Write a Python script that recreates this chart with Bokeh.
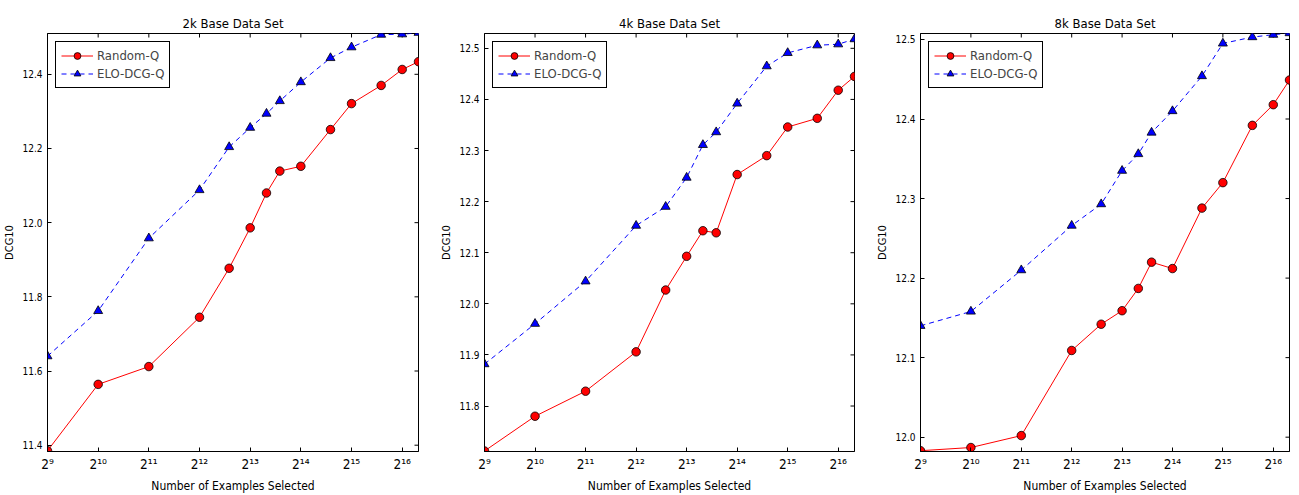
import math
from bokeh.plotting import figure
from bokeh.layouts import row
from bokeh.models import Range1d, FixedTicker, PrintfTickFormatter
from bokeh.embed import file_html
from bokeh.resources import INLINE

# ---------------- data ----------------
n_examples = [512, 1024, 2048, 4096, 6144, 8192, 10240, 12288, 16384,
              24576, 32768, 49152, 65536, 81920]
x_tick_exponents = [9, 10, 11, 12, 13, 14, 15, 16]
titles = ["2k Base Data Set", "4k Base Data Set", "8k Base Data Set"]
series_names = ["Random-Q", "ELO-DCG-Q"]
x_label = "Number of Examples Selected"
y_label = "DCG10"

random_q_2k = [11.385, 11.564, 11.612, 11.745, 11.877, 11.986, 12.080,
               12.139, 12.152, 12.251, 12.321, 12.370, 12.413, 12.434]
elo_dcg_q_2k = [11.640, 11.762, 11.958, 12.088, 12.204, 12.256, 12.294,
                12.328, 12.379, 12.444, 12.473, 12.507, 12.508, 12.512]

random_q_4k = [11.712, 11.780, 11.829, 11.906, 12.027, 12.093, 12.143,
               12.139, 12.253, 12.290, 12.346, 12.363, 12.418, 12.445]
elo_dcg_q_4k = [11.882, 11.961, 12.044, 12.153, 12.190, 12.247, 12.311,
                12.336, 12.392, 12.465, 12.491, 12.506, 12.508, 12.518]

random_q_8k = [11.983, 11.987, 12.002, 12.109, 12.142, 12.159, 12.187,
               12.220, 12.212, 12.288, 12.320, 12.392, 12.418, 12.449]
elo_dcg_q_8k = [12.140, 12.158, 12.210, 12.266, 12.293, 12.335, 12.356,
                12.383, 12.410, 12.454, 12.495, 12.503, 12.506, 12.508]

y_ticks_2k = [11.4, 11.6, 11.8, 12.0, 12.2, 12.4]
y_ticks_4k = [11.8, 11.9, 12.0, 12.1, 12.2, 12.3, 12.4, 12.5]
y_ticks_8k = [12.0, 12.1, 12.2, 12.3, 12.4, 12.5]

y_limits_2k = (11.383, 12.510)
y_limits_4k = (11.711, 12.529)
y_limits_8k = (11.982, 12.5075)

# ---------------- styling ----------------
FONT = "'DejaVu Sans Condensed', 'Liberation Sans Narrow', 'DejaVu Sans', sans-serif"
SUP = str.maketrans("0123456789", "⁰¹²³⁴⁵⁶⁷⁸⁹")
x_tick_values = [2 ** e for e in x_tick_exponents]
x_tick_labels = {2 ** e: "2" + str(e).translate(SUP) for e in x_tick_exponents}


def make_panel(title, rand, elo, y_ticks, y_lim, width, b_left, b_right):
    x_lo, x_hi = n_examples[0], n_examples[-1]
    p = figure(x_axis_type="log",
               x_range=Range1d(x_lo, x_hi),
               y_range=Range1d(*y_lim),
               width=width, height=495,
               min_border_left=b_left, min_border_right=b_right,
               min_border_top=33, min_border_bottom=43,
               output_backend="svg", toolbar_location=None, title=title)
    p.background_fill_color = "white"
    p.border_fill_color = "white"
    p.outline_line_color = "black"
    p.outline_line_alpha = 1
    p.outline_line_width = 1
    p.grid.visible = False

    p.title.text_font = FONT
    p.title.text_font_size = "13px"
    p.title.text_font_style = "normal"
    p.title.align = "center"
    p.title.text_color = "black"
    p.title.standoff = 6

    xa = p.xaxis[0]
    xa.ticker = FixedTicker(ticks=x_tick_values)
    xa.major_label_overrides = x_tick_labels
    xa.major_label_text_font = FONT
    xa.major_label_text_font_size = "13.5px"
    xa.major_label_standoff = 4
    xa.axis_label = x_label
    xa.axis_label_text_font = FONT
    xa.axis_label_text_font_size = "12px"
    xa.axis_label_text_font_style = "normal"
    xa.axis_label_standoff = 4

    ya = p.yaxis[0]
    ya.ticker = FixedTicker(ticks=y_ticks)
    ya.formatter = PrintfTickFormatter(format="%.1f")
    ya.major_label_text_font = FONT
    ya.major_label_text_font_size = "10px"
    ya.major_label_standoff = 5
    ya.axis_label = y_label
    ya.axis_label_text_font = FONT
    ya.axis_label_text_font_size = "11px"
    ya.axis_label_text_font_style = "normal"
    ya.axis_label_standoff = 3

    for ax in (xa, ya):
        ax.axis_line_color = "black"
        ax.major_tick_in = 4
        ax.major_tick_out = 0
        ax.major_tick_line_color = "black"
        ax.minor_tick_line_color = None
        ax.major_label_text_color = "black"
        ax.axis_label_text_color = "black"

    # inward tick marks on the top and right frame edges (half of each dash is
    # clipped away by the frame, leaving a 4px inward tick)
    p.scatter(x_tick_values, [y_lim[1]] * len(x_tick_values), marker="dash",
              angle=math.pi / 2, size=8, line_color="black", line_width=1)
    p.scatter([x_hi] * len(y_ticks), y_ticks, marker="dash",
              size=8, line_color="black", line_width=1)

    p.line(n_examples, rand, line_color="#ff0000", line_width=1,
           legend_label=series_names[0])
    p.scatter(n_examples, rand, marker="circle", size=8.5, fill_color="#ff0000",
              line_color="black", line_width=0.8, legend_label=series_names[0])
    p.line(n_examples, elo, line_color="#0000ff", line_width=1,
           line_dash="5 4", legend_label=series_names[1])
    p.scatter(n_examples, elo, marker="triangle", size=9, fill_color="#0000ff",
              line_color="black", line_width=0.8, legend_label=series_names[1])

    lg = p.legend[0]
    lg.location = "top_left"
    lg.margin = 8
    lg.padding = 5
    lg.spacing = 1
    lg.glyph_width = 32
    lg.glyph_height = 17
    lg.label_height = 17
    lg.label_standoff = 4
    lg.label_text_font = FONT
    lg.label_text_font_size = "13px"
    lg.border_line_color = "black"
    lg.border_line_width = 1
    lg.border_line_alpha = 1
    lg.background_fill_alpha = 1
    return p


p1 = make_panel(titles[0], random_q_2k, elo_dcg_q_2k, y_ticks_2k, y_limits_2k, 437, 45, 19)
p2 = make_panel(titles[1], random_q_4k, elo_dcg_q_4k, y_ticks_4k, y_limits_4k, 436, 43, 19)
p3 = make_panel(titles[2], random_q_8k, elo_dcg_q_8k, y_ticks_8k, y_limits_8k, 425, 43, 9)

layout = row(p1, p2, p3)
open("out.html", "w").write(file_html(layout, INLINE))
